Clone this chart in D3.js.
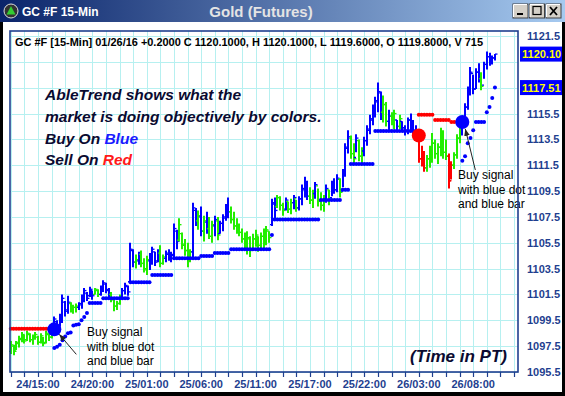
<!DOCTYPE html>
<html>
<head>
<meta charset="utf-8">
<script src="https://cdn.jsdelivr.net/npm/d3@7"></script>
<style>
body { margin: 0; background: #fff; }
text { font-family: 'Liberation Sans', Arial, sans-serif; }
</style>
</head>
<body>
<div id="chart"></div>
<script>
// 15-min bars: [colour, high, low, open, close]  (g = neutral, b = buy, r = sell)
const bars = [
	['g',1097.9,1096.9,1097.1,1097.6],['g',1097.6,1096.8,1097.5,1097.1],['g',1097.9,1097.2,1097.2,1097.8],
	['g',1098.3,1097.4,1097.7,1098.1],['g',1098.6,1097.8,1098.0,1098.4],['g',1098.4,1097.7,1098.3,1097.9],
	['g',1098.7,1097.9,1098.0,1098.5],['g',1098.5,1097.8,1098.4,1098.0],['g',1098.4,1097.6,1098.0,1098.2],
	['g',1098.6,1098.0,1098.2,1098.4],['g',1098.3,1097.6,1098.2,1097.8],['g',1098.5,1097.7,1097.8,1098.3],
	['g',1098.2,1097.5,1098.1,1097.7],['g',1098.7,1097.7,1097.8,1098.5],['g',1098.5,1097.9,1098.4,1098.2],
	['g',1098.9,1098.1,1098.2,1098.8],
	['b',1099.8,1098.5,1098.7,1099.6],['b',1099.5,1098.7,1099.4,1099.0],['b',1100.0,1099.0,1099.1,1099.8],
	['b',1101.5,1099.3,1099.7,1101.2],['b',1101.0,1099.8,1100.9,1100.2],['b',1101.4,1100.0,1100.3,1100.9],
	['g',1100.9,1100.1,1100.8,1100.4],['g',1100.7,1100.0,1100.3,1100.5],['g',1100.8,1100.1,1100.5,1100.6],
	['b',1100.9,1100.3,1100.5,1100.8],['b',1101.5,1100.4,1100.7,1101.3],['b',1102.0,1100.9,1101.2,1101.8],
	['b',1101.7,1101.0,1101.6,1101.2],['b',1102.1,1101.3,1101.4,1101.9],['b',1101.8,1101.1,1101.8,1101.4],
	['g',1102.0,1101.5,1101.5,1101.9],['g',1101.9,1101.3,1101.8,1101.5],
	['b',1102.2,1101.4,1101.5,1102.0],['b',1102.6,1101.7,1102.0,1102.4],['b',1102.4,1101.6,1102.3,1101.8],
	['b',1102.0,1101.3,1101.9,1101.5],
	['g',1101.7,1100.9,1101.5,1101.1],['g',1101.3,1100.2,1101.1,1100.6],['g',1101.0,1100.3,1100.6,1100.8],
	['g',1101.5,1100.7,1100.8,1101.3],
	['b',1102.0,1101.2,1101.3,1101.8],['b',1102.4,1101.5,1101.8,1102.2],['b',1102.2,1101.4,1102.1,1101.7],
	['b',1105.5,1102.4,1102.5,1105.0],['b',1105.0,1103.6,1104.9,1104.0],
	['g',1104.6,1103.5,1104.0,1104.2],['b',1104.8,1103.8,1104.1,1104.6],
	['g',1104.9,1103.6,1104.6,1103.9],['g',1104.3,1103.2,1103.9,1103.5],['g',1104.5,1103.0,1103.4,1104.2],
	['b',1104.7,1103.4,1104.1,1104.5],['b',1105.2,1103.8,1104.4,1105.0],['b',1104.8,1103.7,1104.8,1104.0],
	['b',1105.0,1104.0,1104.1,1104.8],
	['g',1105.3,1103.6,1104.7,1103.9],['g',1104.6,1103.8,1103.9,1104.4],
	['b',1104.9,1104.0,1104.3,1104.7],['b',1105.0,1104.1,1104.6,1104.3],['b',1104.8,1104.0,1104.3,1104.6],
	['b',1107.0,1104.2,1104.5,1106.6],['b',1106.5,1105.0,1106.4,1105.6],
	['g',1107.4,1105.6,1105.7,1106.9],['g',1106.3,1105.0,1106.2,1105.3],['g',1105.8,1104.5,1105.4,1104.9],
	['g',1105.5,1103.6,1104.9,1104.2],['g',1105.0,1104.0,1104.2,1104.8],
	['b',1108.6,1104.3,1104.8,1108.2],['b',1108.2,1106.8,1108.0,1107.2],
	['g',1108.0,1106.5,1107.2,1107.6],['b',1108.3,1106.0,1107.5,1106.4],['g',1107.6,1105.6,1106.4,1107.2],
	['b',1107.9,1106.2,1107.1,1106.6],['g',1107.5,1105.8,1106.6,1106.0],['g',1107.2,1105.5,1106.0,1106.9],
	['b',1107.6,1106.0,1106.8,1107.3],['g',1107.5,1105.7,1107.2,1106.1],
	['b',1107.2,1106.2,1106.2,1107.0],['b',1107.7,1106.4,1107.0,1107.5],['b',1108.5,1107.2,1107.4,1108.3],
	['b',1109.0,1107.4,1108.2,1107.9],
	['g',1108.3,1107.0,1107.9,1107.3],['g',1107.9,1106.5,1107.3,1106.8],['g',1107.4,1106.2,1106.8,1106.5],
	['g',1107.0,1106.0,1106.5,1106.3],['g',1106.6,1105.5,1106.3,1105.8],['g',1106.3,1105.0,1105.8,1105.4],
	['g',1106.4,1104.6,1105.4,1105.9],['g',1106.0,1104.4,1105.8,1104.9],['g',1106.2,1105.0,1105.0,1105.8],
	['g',1106.5,1105.2,1105.8,1106.1],['g',1106.0,1104.8,1106.0,1105.3],['g',1106.3,1105.1,1105.3,1106.0],
	['g',1106.6,1105.0,1106.0,1105.5],['g',1106.8,1105.3,1105.5,1106.5],['g',1106.4,1105.5,1106.4,1105.9],
	['b',1108.9,1106.8,1106.9,1108.6],['b',1109.0,1107.4,1108.5,1108.0],
	['g',1109.2,1108.2,1108.3,1109.0],['g',1109.1,1108.0,1109.0,1108.4],['g',1108.6,1107.6,1108.4,1108.0],
	['b',1109.0,1108.0,1108.1,1108.8],['g',1108.7,1107.8,1108.7,1108.1],['g',1108.9,1107.7,1108.1,1108.6],
	['b',1109.2,1108.1,1108.6,1109.0],['g',1108.8,1107.9,1108.9,1108.2],
	['b',1109.1,1108.0,1108.2,1108.9],['b',1110.0,1108.4,1108.9,1109.7],['b',1110.6,1109.0,1109.6,1110.2],
	['b',1110.3,1108.8,1110.2,1109.1],
	['g',1109.8,1108.5,1109.1,1108.8],['g',1109.6,1108.2,1108.8,1109.3],['b',1110.2,1108.9,1109.3,1110.0],
	['g',1109.7,1108.3,1109.9,1108.7],['g',1109.4,1108.0,1108.7,1108.4],['g',1109.2,1107.9,1108.4,1108.9],
	['b',1110.0,1108.6,1108.9,1109.7],['g',1109.6,1108.4,1109.6,1108.9],
	['b',1110.3,1109.1,1109.0,1110.0],['b',1110.5,1109.3,1110.0,1109.6],['b',1110.8,1109.4,1109.6,1110.5],
	['g',1110.5,1109.0,1110.4,1109.4],
	['b',1111.2,1109.8,1109.5,1111.0],['b',1113.2,1110.6,1110.9,1112.9],['b',1114.2,1112.4,1112.8,1113.7],
	['g',1113.8,1112.0,1113.6,1112.4],['g',1113.2,1111.6,1112.4,1112.0],['b',1113.9,1112.5,1112.1,1113.6],
	['g',1113.5,1111.8,1113.4,1112.2],['g',1112.9,1111.5,1112.2,1112.6],
	['b',1113.7,1112.2,1112.6,1113.4],['b',1114.6,1113.0,1113.4,1114.3],['b',1115.4,1113.9,1114.2,1115.1],
	['b',1116.2,1114.6,1115.0,1115.9],['b',1116.8,1115.2,1115.8,1116.5],['b',1117.9,1115.6,1116.4,1117.2],
	['b',1117.2,1115.0,1117.1,1115.6],
	['g',1116.9,1114.8,1115.6,1116.2],['g',1116.4,1114.5,1116.2,1114.9],['b',1115.8,1114.2,1114.9,1115.3],
	['g',1115.6,1114.6,1115.3,1114.9],['g',1115.8,1114.3,1114.9,1115.5],['b',1115.0,1114.2,1115.0,1114.5],
	['g',1115.4,1114.3,1114.5,1115.1],
	['b',1114.9,1114.1,1114.9,1114.4],['b',1114.6,1113.8,1114.4,1114.2],['b',1115.2,1113.9,1114.2,1115.0],
	['b',1115.5,1114.1,1115.0,1114.6],['b',1115.0,1113.8,1114.6,1114.0],['b',1114.6,1113.6,1114.0,1113.8],
	['r',1113.5,1111.7,1113.4,1112.0],['r',1113.0,1111.4,1112.0,1111.8],['r',1112.6,1111.0,1111.8,1111.3],
	['g',1112.3,1111.0,1111.3,1112.0],['g',1113.0,1111.3,1112.0,1112.7],['g',1114.0,1111.7,1112.7,1113.2],
	['g',1113.5,1112.0,1113.2,1112.4],['g',1113.2,1111.6,1112.4,1112.9],['g',1114.4,1112.2,1112.9,1114.0],
	['g',1114.2,1112.0,1114.0,1112.5],['g',1113.5,1111.9,1112.5,1112.2],
	['r',1112.4,1109.7,1112.2,1110.3],['r',1111.8,1110.4,1110.3,1111.5],
	['g',1112.5,1111.2,1111.5,1112.3],['g',1113.9,1112.0,1112.3,1113.6],['g',1114.7,1113.2,1113.6,1114.5],
	['b',1115.2,1113.8,1114.5,1115.0],['b',1116.3,1114.5,1115.0,1116.0],['b',1117.6,1115.8,1116.0,1117.3],
	['b',1119.1,1116.9,1117.2,1118.7],['b',1118.5,1117.0,1118.6,1117.4],['b',1119.0,1117.4,1117.4,1118.7],
	['b',1119.4,1117.9,1118.7,1118.2],['g',1118.7,1117.3,1118.2,1117.6],
	['b',1119.5,1118.2,1117.7,1119.3],['b',1120.3,1118.9,1119.3,1119.9],['b',1120.2,1119.2,1119.9,1119.5],
	['b',1120.0,1119.3,1119.5,1119.8],['b',1120.1,1119.6,1119.8,1120.1]
];

// stop dots, as runs of [first bar, last bar, level]
const blueStopRuns = [
	[16,16,1097.35],[17,17,1097.45],[18,18,1097.6],[19,19,1097.95],[20,20,1098.25],[21,21,1098.5],
	[22,22,1098.55],[23,23,1099.1],[24,24,1099.15],[25,25,1099.2],[26,26,1099.5],[27,27,1099.75],
	[28,28,1100.06],[29,33,1100.83],[34,43,1101.2],[44,51,1102.45],[52,59,1103.0],[60,69,1104.3],
	[70,74,1104.47],[75,80,1104.7],[81,95,1105.0],[96,96,1106.1],[97,113,1107.3],[114,121,1108.8],
	[122,124,1109.6],[125,133,1111.6],[134,149,1114.15],
	[166,166,1111.85],[167,167,1112.2],[168,168,1113.2],[169,169,1113.6],[170,170,1114.2],
	[171,174,1114.84],[175,175,1115.6],[176,176,1116.0],[177,177,1116.7],[178,178,1117.51]
];
const redStopRuns = [[0,15,1098.85],[150,155,1115.4],[156,161,1115.0],[162,165,1114.85]];

const signalBars = [16, 150, 166];
const signalLevels = [1098.8, 1113.8, 1114.85];
const signalColors = ['#0000ff', '#ff0000', '#0000ff'];

const priceTicks = [1095.5,1097.5,1099.5,1101.5,1103.5,1105.5,1107.5,1109.5,1111.5,1113.5,1115.5,1117.5,1119.5,1121.5];
const timeLabels = ['24/15:00','24/20:00','25/01:00','25/06:00','25/11:00','25/17:00','25/22:00','26/03:00','26/08:00'];
const timeLabelBars = [10, 30, 50, 70, 90, 110, 130, 150, 170];
const lastPrice = 1120.10, lastStop = 1117.51;

const colorOf = { g: '#22ee00', b: '#0000ff', r: '#ff0000' };
const navy = '#1f3f8f';
const W = 565, H = 396;
const plot = { left: 10, right: 518, top: 31, bottom: 372 };

const svg = d3.select('#chart').append('svg')
	.attr('width', W)
	.attr('height', H);

svg.append('rect').attr('width', W).attr('height', H).attr('fill', '#fff');

const x = d3.scaleLinear().domain([0, 178]).range([10.8, 10.8 + 2.72 * 178]);
const y = d3.scaleLinear().domain([1095.5, 1121.5]).range([372, 36]);

// grid
const grid = svg.append('g').attr('stroke', '#b6f0f0').attr('stroke-width', 1).attr('shape-rendering', 'crispEdges');
grid.selectAll('line.h').data(priceTicks).join('line')
	.attr('x1', plot.left).attr('x2', plot.right)
	.attr('y1', d => Math.round(y(d)) + 0.5).attr('y2', d => Math.round(y(d)) + 0.5);
const gridBars = d3.range(0, 186, 5);
grid.selectAll('line.v').data(gridBars).join('line')
	.attr('x1', d => Math.round(x(d)) + 0.5).attr('x2', d => Math.round(x(d)) + 0.5)
	.attr('y1', plot.top).attr('y2', plot.bottom);

// header line inside the plot
svg.append('text')
	.attr('x', 15).attr('y', 46)
	.attr('font-size', 11).attr('font-weight', 'bold').attr('fill', '#000')
	.attr('textLength', 468).attr('lengthAdjust', 'spacingAndGlyphs')
	.text('GC #F [15-Min] 01/26/16  +0.2000 C 1120.1000, H 1120.1000, L 1119.6000, O 1119.8000, V 715');

// bars
const gBars = svg.append('g');
bars.forEach((b, i) => {
	const [c, hi, lo, op, cl] = b;
	const cx = Math.round(x(i));
	const g = gBars.append('g').attr('stroke', colorOf[c]);
	g.append('line').attr('x1', cx).attr('x2', cx).attr('y1', y(hi)).attr('y2', y(lo)).attr('stroke-width', 2);
	g.append('line').attr('x1', cx - 2).attr('x2', cx).attr('y1', y(op)).attr('y2', y(op)).attr('stroke-width', 1.3);
	g.append('line').attr('x1', cx).attr('x2', cx + 2.5).attr('y1', y(cl)).attr('y2', y(cl)).attr('stroke-width', 1.3);
});

// stop dots
function dots(runs, fill) {
	const pts = [];
	runs.forEach(([a, b, v]) => { for (let i = a; i <= b; i++) pts.push([i, v]); });
	svg.append('g').selectAll('circle').data(pts).join('circle')
		.attr('cx', d => x(d[0])).attr('cy', d => y(d[1])).attr('r', 2).attr('fill', fill);
}
dots(blueStopRuns, '#0000ff');
dots(redStopRuns, '#ff0000');

// signal circles
svg.append('g').selectAll('circle').data(signalBars).join('circle')
	.attr('cx', d => x(d)).attr('cy', (d, k) => y(signalLevels[k])).attr('r', 7)
	.attr('fill', (d, k) => signalColors[k]);

// arrows to the buy signals
svg.append('defs').append('marker')
	.attr('id', 'ah').attr('viewBox', '0 0 10 10').attr('refX', 10).attr('refY', 5)
	.attr('markerWidth', 7).attr('markerHeight', 7).attr('orient', 'auto')
	.append('path').attr('d', 'M0,1 L10,5 L0,9 z').attr('fill', '#222');
const arrows = [[16, 1098.8, 22, 25, 5, 5], [166, 1114.85, 13, 48, 3, 7]];
arrows.forEach(([i, v, dx, dy, ex, ey]) => {
	svg.append('line')
		.attr('x1', x(i) + dx).attr('y1', y(v) + dy)
		.attr('x2', x(i) + ex).attr('y2', y(v) + ey)
		.attr('stroke', '#222').attr('stroke-width', 1).attr('marker-end', 'url(#ah)');
});

// notes
function note(x0, y0, lines) {
	const t = svg.append('text').attr('font-size', 12).attr('fill', '#000');
	lines.forEach((s, k) => t.append('tspan').attr('x', x0).attr('y', y0 + k * 14.5).text(s));
}
note(87, 336, ['Buy signal', 'with blue dot', 'and blue bar']);
note(458, 179, ['Buy signal', 'with blue dot', 'and blue bar']);

const big = svg.append('g').attr('font-family', 'Lato, sans-serif').attr('font-weight', 'bold')
	.attr('font-style', 'italic').attr('font-size', 15.5).attr('fill', '#0a0a30');
big.append('text').attr('x', 45).attr('y', 100).text('AbleTrend shows what the');
big.append('text').attr('x', 45).attr('y', 122).text('market is doing objectively by colors.');
const l3 = big.append('text').attr('x', 45).attr('y', 144);
l3.append('tspan').text('Buy On ');
l3.append('tspan').attr('fill', '#1a1aff').text('Blue');
const l4 = big.append('text').attr('x', 45).attr('y', 165);
l4.append('tspan').text('Sell On ');
l4.append('tspan').attr('fill', '#ff1a1a').text('Red');
big.append('text').attr('x', 410).attr('y', 362).attr('font-size', 17).text('(Time in PT)');

// frame
svg.append('rect')
	.attr('x', plot.left).attr('y', plot.top)
	.attr('width', plot.right - plot.left).attr('height', plot.bottom - plot.top)
	.attr('fill', 'none').attr('stroke', navy).attr('stroke-width', 1.6);

// x axis ticks and labels
svg.append('g').attr('stroke', navy).attr('stroke-width', 1.2).selectAll('line').data(gridBars).join('line')
	.attr('x1', d => Math.round(x(d)) + 0.5).attr('x2', d => Math.round(x(d)) + 0.5)
	.attr('y1', plot.bottom).attr('y2', plot.bottom + 5);
svg.append('g').selectAll('text').data(timeLabels).join('text')
	.attr('x', (d, k) => x(timeLabelBars[k])).attr('y', 388)
	.attr('text-anchor', 'middle').attr('font-size', 11).attr('font-weight', 'bold').attr('fill', navy)
	.text(d => d);

// y labels (the one hidden under the last-price box is skipped)
svg.append('g').selectAll('text').data(priceTicks.filter(v => Math.abs(y(v) - y(lastPrice)) > 10 && Math.abs(y(v) - y(lastStop)) > 10)).join('text')
	.attr('x', 527).attr('y', d => y(d) + 4)
	.attr('font-size', 11).attr('font-weight', 'bold').attr('fill', navy)
	.text(d => d.toFixed(1));

// price boxes
[lastPrice, lastStop].forEach(v => {
	svg.append('rect').attr('x', 520).attr('y', y(v) - 7.5).attr('width', 45).attr('height', 15).attr('fill', '#0000ff');
	svg.append('text').attr('x', 522).attr('y', y(v) + 4)
		.attr('font-size', 11).attr('font-weight', 'bold').attr('fill', '#ffff00').text(v.toFixed(2));
});

// window chrome
const grad = svg.append('defs').append('linearGradient').attr('id', 'tb');
grad.append('stop').attr('offset', '0%').attr('stop-color', '#0a246a');
grad.append('stop').attr('offset', '100%').attr('stop-color', '#a6caf0');
svg.append('rect').attr('x', 0).attr('y', 0).attr('width', W).attr('height', 22).attr('fill', 'url(#tb)');
svg.append('circle').attr('cx', 11).attr('cy', 11).attr('r', 7).attr('fill', '#333').attr('stroke', '#ddd').attr('stroke-width', 1);
svg.append('path').attr('d', 'M11,6 L15.5,14.5 L6.5,14.5 Z').attr('fill', '#3c3');
svg.append('text').attr('x', 22).attr('y', 16).attr('font-size', 12).attr('font-weight', 'bold').attr('fill', '#fff').text('GC #F 15-Min');
svg.append('text').attr('x', 261).attr('y', 17).attr('text-anchor', 'middle')
	.attr('font-size', 15).attr('font-weight', 'bold').attr('fill', '#e4e4e4').text('Gold (Futures)');
const glyphs = ['min', 'max', 'close'];
glyphs.forEach((gName, k) => {
	const bx = 513 + k * 16.5, by = 4;
	const b = svg.append('g').attr('transform', `translate(${bx},${by})`);
	b.append('rect').attr('width', 15).attr('height', 14).attr('fill', '#d4d0c8').attr('stroke', '#404040').attr('stroke-width', 1);
	b.append('path').attr('d', 'M0.5,13 V0.5 H14').attr('stroke', '#fff').attr('fill', 'none');
	if (gName === 'min') b.append('rect').attr('x', 4).attr('y', 9).attr('width', 6).attr('height', 2).attr('fill', '#000');
	if (gName === 'max') b.append('rect').attr('x', 3.5).attr('y', 2.5).attr('width', 8).attr('height', 8).attr('fill', 'none').attr('stroke', '#000').attr('stroke-width', 1.2);
	if (gName === 'close') b.append('path').attr('d', 'M4,3 L11,11 M11,3 L4,11').attr('stroke', '#000').attr('stroke-width', 1.8);
});
svg.append('g').attr('fill', '#000').call(g => {
	g.append('rect').attr('x', 0).attr('y', 22).attr('width', 3).attr('height', H - 22);
	g.append('rect').attr('x', W - 3).attr('y', 22).attr('width', 3).attr('height', H - 22);
	g.append('rect').attr('x', 0).attr('y', H - 4).attr('width', W).attr('height', 4);
});
</script>
</body>
</html>
